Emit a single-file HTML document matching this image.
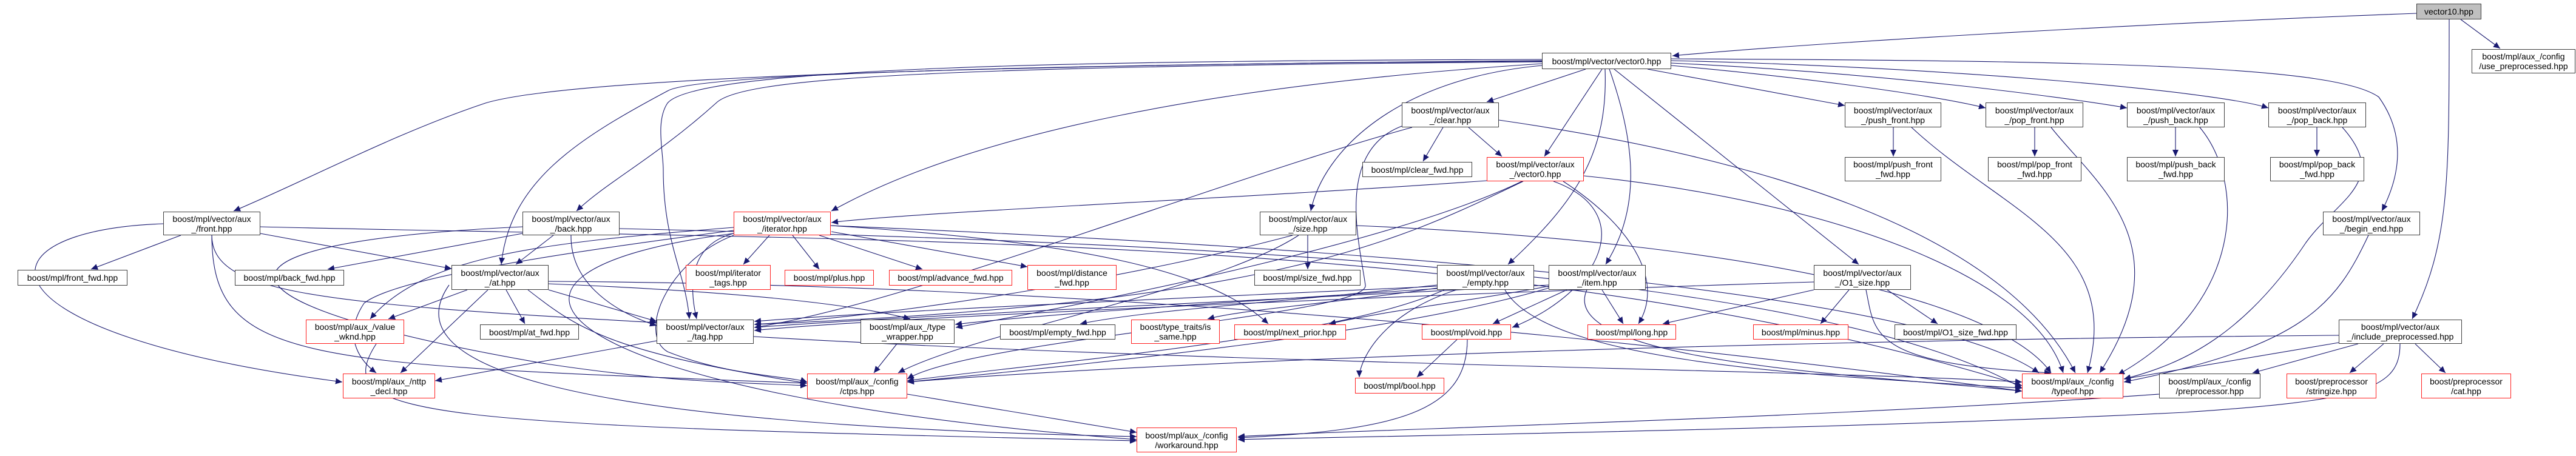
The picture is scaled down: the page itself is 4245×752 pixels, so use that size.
<!DOCTYPE html>
<html><head><meta charset="utf-8"><style>
html,body{margin:0;padding:0;background:#fff;}
body{width:4245px;height:752px;position:relative;overflow:hidden;font-family:"Liberation Sans",Arial,sans-serif;}
svg{position:absolute;left:0;top:0;}
.n{position:absolute;box-sizing:border-box;border:1.5px solid #404040;background:#fff;font-size:14px;line-height:16px;text-align:center;color:#000;display:flex;align-items:center;justify-content:center;white-space:pre;}
.r{border-color:#ff2020;}
.g{background:#bfbfbf;}
</style></head><body>
<svg width="4245" height="752" viewBox="0 0 4245 752">
<defs><marker id="a" markerUnits="userSpaceOnUse" markerWidth="12" markerHeight="12" refX="11" refY="5" orient="auto"><path d="M0,0 L11,5 L0,10 z" fill="#191970"/></marker></defs>
<g fill="none" stroke="#191970" stroke-width="1.1" marker-end="url(#a)">
<path d="M3982 22 C3500 40,3000 70,2756 92"/>
<path d="M4055 32 L4120 80"/>
<path d="M4036 32 C4036 300,4036 400,3975 526"/>
<path d="M2613 114 L2450 168"/>
<path d="M2640 114 L2545 258"/>
<path d="M2715 114 L3040 174"/>
<path d="M2754 108 C3000 130,3200 160,3272 178"/>
<path d="M2754 104 C3100 120,3400 160,3505 178"/>
<path d="M2754 100 C3200 110,3650 150,3738 178"/>
<path d="M2754 97 C3500 100,3850 110,3920 160 C3970 230,3950 300,3925 348"/>
<path d="M2660 114 L3063 436"/>
<path d="M2652 114 C2700 250,2700 350,2646 436"/>
<path d="M2645 114 C2650 250,2600 330,2485 436"/>
<path d="M2541 108 C2300 130,2180 250,2160 348"/>
<path d="M2541 105 C2000 140,1600 220,1370 348"/>
<path d="M2541 102 C1500 110,1220 130,1180 170 C1080 260,1000 300,950 348"/>
<path d="M2541 100 C1300 110,900 140,800 170 C650 220,500 300,385 348"/>
<path d="M2541 101 C1800 105,1150 120,1100 150 C950 230,840 300,826 436"/>
<path d="M2541 98 C1800 100,1150 110,1100 170 C1080 200,1093 250,1093 280 C1093 400,1130 450,1136 526"/>
<path d="M2378 210 L2345 266"/>
<path d="M2420 210 L2475 258"/>
<path d="M2470 198 C2900 260,3300 380,3420 615"/>
<path d="M2327 210 C2000 300,1500 500,1243 540"/>
<path d="M2310 208 C2200 250,2240 400,2250 470 C2260 520,1600 560,1495 625"/>
<path d="M2450 298 C2000 330,1500 350,1370 367"/>
<path d="M2510 299 C2300 400,2100 500,1243 535"/>
<path d="M2576 299 C2700 380,2740 470,2700 534"/>
<path d="M2560 299 C2700 350,2640 480,2492 540"/>
<path d="M2610 290 C3000 330,3350 450,3400 615"/>
<path d="M2508 299 C2300 400,1800 500,1575 540"/>
<path d="M1268 388 L1225 436"/>
<path d="M1306 388 L1350 444"/>
<path d="M1350 388 L1520 444"/>
<path d="M1370 382 L1693 440"/>
<path d="M1209 385 C1150 400,1130 450,1148 526"/>
<path d="M1209 388 C1100 430,1050 550,1100 580 C1200 620,1300 620,1330 630"/>
<path d="M1209 375 C900 400,700 420,610 526"/>
<path d="M1209 380 C900 420,650 460,600 500 C560 560,600 600,620 615"/>
<path d="M1369 372 C1800 400,2000 450,2090 534"/>
<path d="M1369 372 C2500 420,3200 500,3360 615"/>
<path d="M1209 385 C700 450,900 650,1873 725"/>
<path d="M298 388 L150 444"/>
<path d="M429 385 L744 443"/>
<path d="M349 388 C350 480,500 500,1082 532"/>
<path d="M269 369 C-50 380,-50 550,564 630"/>
<path d="M349 388 C350 600,500 600,1330 632"/>
<path d="M429 374 C1500 400,2500 380,3332 636"/>
<path d="M861 385 L540 444"/>
<path d="M912 388 L850 436"/>
<path d="M941 388 C940 460,1000 510,1082 537"/>
<path d="M861 374 C300 400,320 500,900 600 C1100 630,1200 630,1330 636"/>
<path d="M1021 377 C2000 400,3000 450,3332 640"/>
<path d="M770 478 L640 526"/>
<path d="M834 478 L865 534"/>
<path d="M804 478 L660 615"/>
<path d="M904 478 L1082 530"/>
<path d="M904 468 C1200 480,1400 500,1500 526"/>
<path d="M870 478 C950 540,1000 580,1330 632"/>
<path d="M740 470 C650 600,900 700,1873 720"/>
<path d="M904 464 C2000 470,3000 600,3332 645"/>
<path d="M2155 388 L2155 444"/>
<path d="M2130 388 C1900 450,1500 520,1243 535"/>
<path d="M2140 388 C2000 480,1600 550,1480 615"/>
<path d="M2235 372 C2900 400,3300 500,3380 615"/>
<path d="M2368 470 C2100 500,1900 510,1780 534"/>
<path d="M2368 475 C2200 500,2050 510,1990 526"/>
<path d="M2368 472 C2000 490,1500 510,1243 530"/>
<path d="M2368 476 C2000 500,1700 520,1574 535"/>
<path d="M2400 478 C2270 520,2240 600,2240 622"/>
<path d="M2480 478 C2550 600,3000 620,3332 640"/>
<path d="M2380 478 C2200 560,1700 600,1495 628"/>
<path d="M2582 478 L2460 534"/>
<path d="M2640 478 L2675 534"/>
<path d="M2552 472 C2400 500,2300 510,2190 534"/>
<path d="M2552 470 C2200 490,1500 520,1243 540"/>
<path d="M2615 478 C2560 600,3100 620,3332 645"/>
<path d="M2552 475 C2300 550,1800 600,1495 630"/>
<path d="M3110 478 L3193 534"/>
<path d="M3047 478 L3000 534"/>
<path d="M2989 478 L2740 534"/>
<path d="M2989 465 C2500 480,1500 520,1243 545"/>
<path d="M3075 478 C3090 550,3080 600,3380 615"/>
<path d="M3886 567 L3712 615"/>
<path d="M3928 567 L3872 615"/>
<path d="M3980 567 L4030 615"/>
<path d="M3854 565 L3500 625"/>
<path d="M3854 553 C3000 560,2000 590,1495 630"/>
<path d="M3955 567 C3955 640,3900 660,3600 680 C3000 710,2200 720,2040 725"/>
<path d="M3558 650 C3000 690,2200 710,2040 720"/>
<path d="M2401 560 L2335 622"/>
<path d="M2418 560 C2418 680,2300 710,2040 722"/>
<path d="M1495 650 L1873 713"/>
<path d="M620 567 C540 690,700 700,1873 727"/>
<path d="M1478 567 L1440 615"/>
<path d="M1082 562 L717 628"/>
<path d="M1242 555 C2000 600,3000 610,3332 630"/>
<path d="M3120 210 L3120 258"/>
<path d="M3150 210 C3300 350,3500 400,3440 615"/>
<path d="M3353 210 L3353 258"/>
<path d="M3380 210 C3450 300,3600 400,3460 615"/>
<path d="M3585 210 L3585 258"/>
<path d="M3625 210 C3700 300,3700 500,3490 618"/>
<path d="M3818 210 L3818 258"/>
<path d="M3860 210 C3940 300,3850 330,3800 400 C3700 550,3600 600,3500 625"/>
<path d="M3903 388 C3850 500,3800 570,3500 630"/>
</g></svg>

<div class="n g" style="left:3982px;top:6px;width:107px;height:26px">vector10.hpp</div>
<div class="n" style="left:2541px;top:87px;width:213px;height:27px">boost/mpl/vector/vector0.hpp</div>
<div class="n" style="left:4073px;top:81px;width:171px;height:40px">boost/mpl/aux_/config
/use_preprocessed.hpp</div>
<div class="n" style="left:2310px;top:169px;width:160px;height:41px">boost/mpl/vector/aux
_/clear.hpp</div>
<div class="n" style="left:3040px;top:169px;width:159px;height:41px">boost/mpl/vector/aux
_/push_front.hpp</div>
<div class="n" style="left:3272px;top:169px;width:161px;height:41px">boost/mpl/vector/aux
_/pop_front.hpp</div>
<div class="n" style="left:3505px;top:169px;width:161px;height:41px">boost/mpl/vector/aux
_/push_back.hpp</div>
<div class="n" style="left:3738px;top:169px;width:161px;height:41px">boost/mpl/vector/aux
_/pop_back.hpp</div>
<div class="n" style="left:2245px;top:267px;width:181px;height:25px">boost/mpl/clear_fwd.hpp</div>
<div class="n r" style="left:2450px;top:259px;width:160px;height:40px">boost/mpl/vector/aux
_/vector0.hpp</div>
<div class="n" style="left:3040px;top:259px;width:159px;height:40px">boost/mpl/push_front
_fwd.hpp</div>
<div class="n" style="left:3276px;top:259px;width:154px;height:40px">boost/mpl/pop_front
_fwd.hpp</div>
<div class="n" style="left:3505px;top:259px;width:161px;height:40px">boost/mpl/push_back
_fwd.hpp</div>
<div class="n" style="left:3741px;top:259px;width:155px;height:40px">boost/mpl/pop_back
_fwd.hpp</div>
<div class="n" style="left:269px;top:349px;width:160px;height:39px">boost/mpl/vector/aux
_/front.hpp</div>
<div class="n" style="left:861px;top:349px;width:160px;height:39px">boost/mpl/vector/aux
_/back.hpp</div>
<div class="n r" style="left:1209px;top:349px;width:160px;height:39px">boost/mpl/vector/aux
_/iterator.hpp</div>
<div class="n" style="left:2076px;top:349px;width:159px;height:39px">boost/mpl/vector/aux
_/size.hpp</div>
<div class="n" style="left:3828px;top:349px;width:160px;height:39px">boost/mpl/vector/aux
_/begin_end.hpp</div>
<div class="n" style="left:29px;top:445px;width:181px;height:26px">boost/mpl/front_fwd.hpp</div>
<div class="n" style="left:387px;top:445px;width:180px;height:26px">boost/mpl/back_fwd.hpp</div>
<div class="n" style="left:744px;top:437px;width:160px;height:41px">boost/mpl/vector/aux
_/at.hpp</div>
<div class="n r" style="left:1130px;top:437px;width:140px;height:41px">boost/mpl/iterator
_tags.hpp</div>
<div class="n r" style="left:1293px;top:445px;width:147px;height:26px">boost/mpl/plus.hpp</div>
<div class="n r" style="left:1465px;top:445px;width:203px;height:26px">boost/mpl/advance_fwd.hpp</div>
<div class="n r" style="left:1693px;top:437px;width:147px;height:41px">boost/mpl/distance
_fwd.hpp</div>
<div class="n" style="left:2067px;top:445px;width:175px;height:26px">boost/mpl/size_fwd.hpp</div>
<div class="n" style="left:2368px;top:437px;width:160px;height:41px">boost/mpl/vector/aux
_/empty.hpp</div>
<div class="n" style="left:2552px;top:437px;width:160px;height:41px">boost/mpl/vector/aux
_/item.hpp</div>
<div class="n" style="left:2989px;top:437px;width:160px;height:41px">boost/mpl/vector/aux
_/O1_size.hpp</div>
<div class="n r" style="left:504px;top:527px;width:162px;height:40px">boost/mpl/aux_/value
_wknd.hpp</div>
<div class="n" style="left:791px;top:535px;width:163px;height:25px">boost/mpl/at_fwd.hpp</div>
<div class="n" style="left:1082px;top:527px;width:160px;height:40px">boost/mpl/vector/aux
_/tag.hpp</div>
<div class="n" style="left:1418px;top:527px;width:155px;height:40px">boost/mpl/aux_/type
_wrapper.hpp</div>
<div class="n" style="left:1648px;top:535px;width:190px;height:25px">boost/mpl/empty_fwd.hpp</div>
<div class="n r" style="left:1864px;top:527px;width:146px;height:40px">boost/type_traits/is
_same.hpp</div>
<div class="n r" style="left:2034px;top:535px;width:184px;height:25px">boost/mpl/next_prior.hpp</div>
<div class="n r" style="left:2343px;top:535px;width:147px;height:25px">boost/mpl/void.hpp</div>
<div class="n r" style="left:2616px;top:535px;width:146px;height:25px">boost/mpl/long.hpp</div>
<div class="n r" style="left:2889px;top:535px;width:157px;height:25px">boost/mpl/minus.hpp</div>
<div class="n" style="left:3122px;top:535px;width:201px;height:25px">boost/mpl/O1_size_fwd.hpp</div>
<div class="n" style="left:3854px;top:527px;width:203px;height:40px">boost/mpl/vector/aux
_/include_preprocessed.hpp</div>
<div class="n r" style="left:565px;top:616px;width:152px;height:41px">boost/mpl/aux_/nttp
_decl.hpp</div>
<div class="n r" style="left:1330px;top:616px;width:165px;height:41px">boost/mpl/aux_/config
/ctps.hpp</div>
<div class="n r" style="left:2233px;top:623px;width:147px;height:26px">boost/mpl/bool.hpp</div>
<div class="n r" style="left:3332px;top:616px;width:167px;height:41px">boost/mpl/aux_/config
/typeof.hpp</div>
<div class="n" style="left:3558px;top:616px;width:167px;height:41px">boost/mpl/aux_/config
/preprocessor.hpp</div>
<div class="n r" style="left:3768px;top:616px;width:148px;height:41px">boost/preprocessor
/stringize.hpp</div>
<div class="n r" style="left:3990px;top:616px;width:148px;height:41px">boost/preprocessor
/cat.hpp</div>
<div class="n r" style="left:1873px;top:705px;width:165px;height:41px">boost/mpl/aux_/config
/workaround.hpp</div>
</body></html>
